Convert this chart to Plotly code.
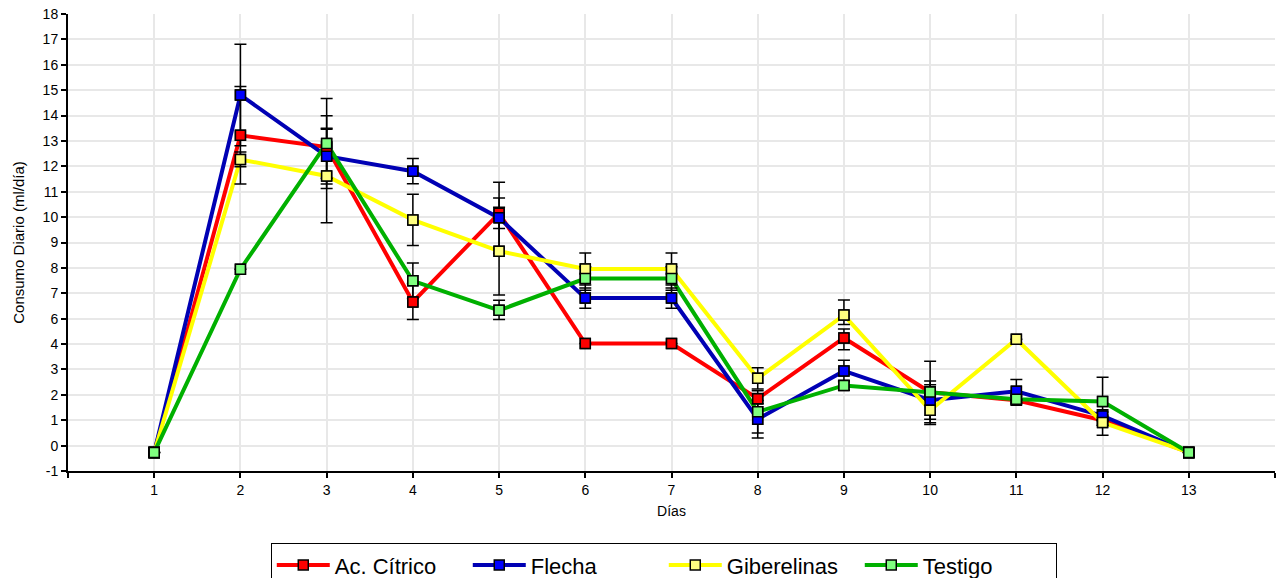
import numpy as np
import plotly.graph_objects as go

# Days on the x axis
dias = list(range(1, 14))

# Daily consumption (ml/día) per treatment, as read against the y tick labels
ac_citrico = [-0.27, 13.22, 12.76, 6.66, 10.15, 4.04, 4.04, 1.85, 4.48, 2.10, 1.79, 1.00, -0.27]
flecha = [-0.27, 14.81, 12.40, 11.81, 9.97, 6.81, 6.81, 1.04, 2.94, 1.79, 2.14, 1.17, -0.27]
giberelinas = [-0.27, 12.27, 11.62, 9.89, 8.66, 7.96, 7.96, 2.65, 6.14, 1.39, 4.38, 0.91, -0.27]
testigo = [-0.27, 7.95, 12.90, 7.49, 6.33, 7.58, 7.58, 1.33, 2.37, 2.11, 1.83, 1.74, -0.27]

# Error bar half-widths (same units)
err_ac_citrico = [0, 1.92, 1.23, 0.73, 0.60, 0, 0, 0.20, 0.70, 0.30, 0, 0, 0]
err_flecha = [0, 2.00, 1.10, 0.50, 1.40, 0.40, 0.40, 0.74, 0.42, 0.75, 0.46, 0.15, 0]
err_giberelinas = [0, 0.29, 1.84, 1.01, 1.73, 0.63, 0.63, 0.42, 0.60, 0.56, 0, 0.50, 0]
err_testigo = [0, 0, 1.77, 0.70, 0.40, 0.46, 0.46, 0.83, 0.19, 1.21, 0, 0.95, 0]

# Y tick labels, evenly spaced along the axis (the axis skips "5")
y_tick_labels = [-1, 0, 1, 2, 3, 4, 6, 7, 8, 9, 10, 11, 12, 13, 14, 15, 16, 17, 18]
y_tick_pos = list(range(len(y_tick_labels)))

x_tick_vals = list(range(0, 15))
x_tick_text = [""] + [str(d) for d in dias] + [""]

series = [
    ("Ac. Cítrico", ac_citrico, err_ac_citrico, "#FF0000", "#FF0000"),
    ("Flecha", flecha, err_flecha, "#0000B4", "#0000FF"),
    ("Giberelinas", giberelinas, err_giberelinas, "#FFFF00", "#FFFF80"),
    ("Testigo", testigo, err_testigo, "#00B000", "#80FF80"),
]


def to_axis(v):
    """Place label values on the evenly spaced tick scale."""
    return np.interp(np.asarray(v, dtype=float), y_tick_labels, y_tick_pos)


fig = go.Figure()

# Lines (with legend entries)
for name, vals, err, lc, mc in series:
    fig.add_trace(go.Scatter(
        x=dias, y=to_axis(vals), name=name, mode="lines+markers",
        line=dict(color=lc, width=4),
        marker=dict(symbol="square", size=10, color=mc,
                    line=dict(color="black", width=1.5)),
    ))

# Error bars on top of all lines
for name, vals, err, lc, mc in series:
    v = np.asarray(vals, dtype=float)
    e = np.asarray(err, dtype=float)
    plus = to_axis(v + e) - to_axis(v)
    minus = to_axis(v) - to_axis(v - e)
    plus = [p if ee > 0 else None for p, ee in zip(plus, e)]
    minus = [m if ee > 0 else None for m, ee in zip(minus, e)]
    fig.add_trace(go.Scatter(
        x=dias, y=to_axis(vals), mode="markers", showlegend=False,
        hoverinfo="skip",
        marker=dict(size=1, opacity=0),
        error_y=dict(type="data", array=plus, arrayminus=minus,
                     color="black", thickness=1.5, width=6, symmetric=False),
    ))

# Markers above the error bars
for name, vals, err, lc, mc in series:
    fig.add_trace(go.Scatter(
        x=dias, y=to_axis(vals), mode="markers", showlegend=False,
        marker=dict(symbol="square", size=10, color=mc,
                    line=dict(color="black", width=1.5)),
    ))

fig.update_layout(
    width=1286, height=578,
    margin=dict(l=68, r=11, t=14, b=107, autoexpand=False),
    paper_bgcolor="white", plot_bgcolor="white",
    font=dict(family="Liberation Sans, Arial, sans-serif", size=14, color="black"),
    legend=dict(
        orientation="h", x=0.168, xanchor="left", y=-0.158, yanchor="top",
        bordercolor="black", borderwidth=1, bgcolor="white",
        font=dict(family="Liberation Sans Narrow, Arial Narrow, sans-serif", size=22),
        entrywidth=128, entrywidthmode="pixels", itemwidth=53,
    ),
)

fig.update_xaxes(
    range=[0, 14], tickmode="array", tickvals=x_tick_vals, ticktext=x_tick_text,
    showgrid=True, gridcolor="#E8E8E8", gridwidth=1.5,
    showline=True, linecolor="black", linewidth=2,
    ticks="outside", ticklen=5, tickwidth=2, tickcolor="black",
    zeroline=False,
    title=dict(text="Días", font=dict(size=14), standoff=9),
)

fig.update_yaxes(
    range=[0, 18], tickmode="array", tickvals=y_tick_pos,
    ticktext=[str(t) for t in y_tick_labels],
    showgrid=True, gridcolor="#E8E8E8", gridwidth=1.5,
    showline=True, linecolor="black", linewidth=2,
    ticks="outside", ticklen=5, tickwidth=2, tickcolor="black",
    zeroline=False,
    title=dict(text="Consumo Diario (ml/día)", font=dict(size=15), standoff=14),
)

fig.write_html("out.html")
